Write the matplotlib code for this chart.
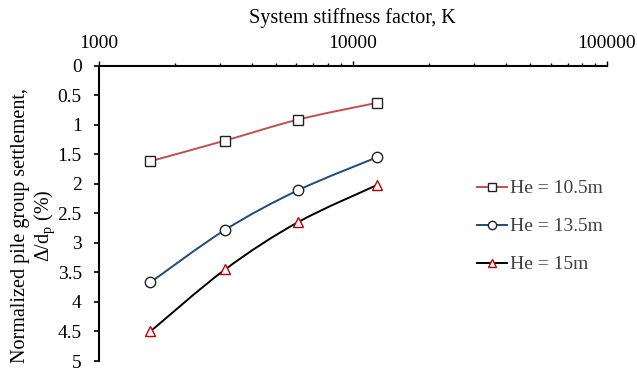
import numpy as np
import matplotlib
matplotlib.use("Agg")
import matplotlib.pyplot as plt
from matplotlib.path import Path
from matplotlib.patches import PathPatch
from matplotlib.lines import Line2D

plt.rcParams['font.family'] = ['Liberation Serif', 'DejaVu Serif']
plt.rcParams['mathtext.fontset'] = 'custom'
plt.rcParams['mathtext.rm'] = 'Liberation Serif'
plt.rcParams['mathtext.it'] = 'Liberation Serif'

K = [1600, 3150, 6100, 12500]
he_10_5 = [1.62, 1.27, 0.915, 0.63]
he_13_5 = [3.67, 2.78, 2.11, 1.55]
he_15 = [4.50, 3.45, 2.65, 2.02]
labels = ['He = 10.5m', 'He = 13.5m', 'He = 15m']
yticks = [0, 0.5, 1, 1.5, 2, 2.5, 3, 3.5, 4, 4.5, 5]
ytick_labels = ['0', '0.5', '1', '1.5', '2', '2.5', '3', '3.5', '4', '4.5', '5']

fig = plt.figure(figsize=(6.37, 3.72), dpi=100)
ax = fig.add_axes([98.5/637, 1-361/372, (607-98.5)/637, (361-65.5)/372])
ax.set_xscale('log')
ax.set_xlim(1000, 100000)
ax.set_ylim(5, 0)


def smooth_path(xs, ys):
    lx = np.log10(np.asarray(xs, float))
    yy = np.asarray(ys, float)
    n = len(lx)
    verts = [(xs[0], ys[0])]
    codes = [Path.MOVETO]
    for i in range(n - 1):
        p0 = (lx[max(i-1, 0)], yy[max(i-1, 0)])
        p1 = (lx[i], yy[i])
        p2 = (lx[i+1], yy[i+1])
        p3 = (lx[min(i+2, n-1)], yy[min(i+2, n-1)])
        c1 = (p1[0] + (p2[0]-p0[0])/6, p1[1] + (p2[1]-p0[1])/6)
        c2 = (p2[0] - (p3[0]-p1[0])/6, p2[1] - (p3[1]-p1[1])/6)
        verts += [(10**c1[0], c1[1]), (10**c2[0], c2[1]), (10**p2[0], p2[1])]
        codes += [Path.CURVE4]*3
    return Path(verts, codes)

series = [
    (he_10_5, '#C0504D', 's', '#222222'),
    (he_13_5, '#1F497D', 'o', '#222222'),
    (he_15, 'black', '^', '#C00000'),
]
handles = []
for (ys, lc, mk, mec), lab in zip(series, labels):
    ax.add_patch(PathPatch(smooth_path(K, ys), facecolor='none', edgecolor=lc,
                           lw=1.4, zorder=2))
    ax.plot(K, ys, linestyle='none', marker=mk, markersize=7.5,
            markerfacecolor='white', markeredgecolor=mec, markeredgewidth=1.0,
            zorder=3)
    handles.append(Line2D([], [], color=lc, lw=1.4, marker=mk, markersize=6,
                          markerfacecolor='white', markeredgecolor=mec,
                          markeredgewidth=1.0))

ax.xaxis.tick_top()
ax.xaxis.set_label_position('top')
ax.spines['bottom'].set_visible(False)
ax.spines['right'].set_visible(False)
ax.spines['top'].set_linewidth(1.5)
ax.spines['left'].set_linewidth(1.5)
ax.set_xticks([1000, 10000, 100000])
ax.set_xticklabels(['1000', '10000', '100000'])
ax.tick_params(axis='x', which='major', length=3.6, width=1, labelsize=14, pad=6)
ax.tick_params(axis='x', which='minor', length=2.2, width=1)
ax.set_yticks(yticks)
ax.set_yticklabels(ytick_labels)
ax.tick_params(axis='y', which='major', length=3.6, width=1.2, labelsize=14, pad=8.5)
ax.set_xlabel('System stiffness factor, K', fontsize=14.5, labelpad=9)
ax.set_ylabel('Normalized pile group settlement,\n$\\Delta$/d$_\\mathrm{p}$ (%)',
              fontsize=14.5, linespacing=1.2)
ax.yaxis.set_label_coords(-0.081, 0.457)

leg = ax.legend(handles, labels, loc='center left', bbox_to_anchor=(0.745, 0.455),
                frameon=False, fontsize=14, handlelength=1.55, handletextpad=0.14,
                labelspacing=1.05, borderpad=0, borderaxespad=0,
                labelcolor='#404040')

fig.savefig('out.png', dpi=100)
